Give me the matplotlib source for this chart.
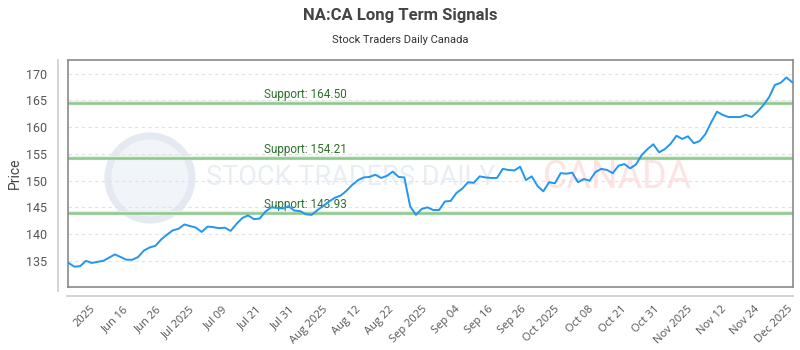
import numpy as np
import matplotlib.pyplot as plt
from matplotlib.lines import Line2D
from matplotlib.patches import Ellipse

# price series, one value per trading day
prices = [
    134.6, 133.9, 134.0, 135.0, 134.6, 134.8, 135.0, 135.6, 136.2, 135.7,
    135.2, 135.2, 135.7, 136.9, 137.5, 137.8, 139.0, 139.9, 140.7, 141.0,
    141.8, 141.5, 141.2, 140.4, 141.4, 141.3, 141.1, 141.2, 140.6, 141.9,
    143.0, 143.5, 142.8, 142.9, 144.2, 145.0, 144.9, 144.8, 145.2, 144.4,
    144.3,
    143.7, 143.6, 144.5, 145.3, 146.1, 146.8, 147.2, 148.1, 149.2, 150.1,
    150.6, 150.7, 151.1, 150.5, 150.9, 151.7, 150.7, 150.6, 145.2, 143.6,
    144.7, 145.0, 144.5, 144.5, 146.1, 146.2, 147.7, 148.5, 149.7, 149.6,
    150.8, 150.6, 150.5, 150.5, 152.2, 152.0, 151.9, 152.6, 150.1, 150.8,
    149.0, 148.0, 149.7, 149.5, 151.4, 151.3, 151.5, 149.7, 150.3, 150.0,
    151.6, 152.2, 152.0, 151.4, 152.8, 153.1, 152.3, 153.0, 154.8, 155.9,
    156.8, 155.3, 155.9, 156.9, 158.4, 157.8, 158.3, 157.0, 157.4, 158.7,
    160.9, 162.9, 162.3, 161.9, 161.9, 161.9, 162.3, 161.9, 162.9, 164.1,
    165.6, 167.9, 168.3, 169.3, 168.4,
]

support_levels = [164.50, 154.21, 143.93]

tick_labels = ["2025", "Jun 16", "Jun 26", "Jul 2025", "Jul 09", "Jul 21",
               "Jul 31", "Aug 2025", "Aug 12", "Aug 22", "Sep 2025", "Sep 04",
               "Sep 16", "Sep 26", "Oct 2025", "Oct 08", "Oct 21", "Oct 31",
               "Nov 2025", "Nov 12", "Nov 24", "Dec 2025"]

y_ticks = [135, 140, 145, 150, 155, 160, 165, 170]

fig = plt.figure(figsize=(8, 3.5), dpi=100)
ax = fig.add_axes([0.085, 0.18, 0.906, 0.649])

x = np.arange(len(prices))

# faint watermark (logo ring + wordmark)
ax.add_patch(Ellipse((0.113, 0.48), 0.116, 0.37, transform=ax.transAxes,
                     facecolor='#f1f4f9', edgecolor='#e4e9f2', lw=5, zorder=0))
ax.text(0.19, 0.48, "STOCK TRADERS DAILY", transform=ax.transAxes,
        fontsize=19.5, color='#e9edf4', va='center', ha='left',
        family='Roboto', zorder=0)
ax.text(0.655, 0.48, "CANADA", transform=ax.transAxes,
        fontsize=27, color='#fde3e3', va='center', ha='left',
        family='Roboto', zorder=0)

for lvl in support_levels:
    ax.axhline(lvl, color='#e3f1e3', lw=3.2, zorder=1)
    ax.axhline(lvl, color='#8dc98d', lw=1.8, zorder=2)
    ax.text(33.8, lvl + 0.45, f"Support: {lvl:.2f}", color='#2f6f2f',
            fontsize=8.5, va='bottom', ha='left', family='Roboto', zorder=3)

ax.plot(x, prices, color='#2196f3', lw=1.4, zorder=4)

ax.set_xlim(-0.1, len(prices) - 0.9)
ax.set_ylim(130.1, 172.6)
ax.set_yticks(y_ticks)
ax.grid(axis='y', color='#e2e2e2', ls=(0, (3, 3)), lw=0.8)
ax.set_axisbelow(True)

ax.set_xticks(np.linspace(3.6, 124.1, len(tick_labels)))
ax.set_xticklabels(tick_labels, rotation=45, ha='right', rotation_mode='anchor',
                   family='Open Sans', fontsize=8, color='#555555')
for lab in ax.get_yticklabels():
    lab.set_family('Roboto')
ax.tick_params(axis='y', length=0, pad=15, labelsize=9, labelcolor='#555555')
ax.tick_params(axis='x', length=0, pad=12)

for s in ax.spines.values():
    s.set_color('#8a8a8a')
    s.set_linewidth(1.2)

ax.set_ylabel("Price", fontsize=10, color='#444444', family='Roboto', labelpad=3)

# offset axis lines outside the plot box
fig.add_artist(Line2D([0.0725, 0.0725], [0.17, 0.829], color='#cccccc', lw=1.2))
fig.add_artist(Line2D([0.084, 0.991], [0.154, 0.154], color='#cccccc', lw=1.2))

fig.text(0.5, 0.955, "NA:CA Long Term Signals", ha='center', va='center',
         fontsize=12, fontweight='bold', color='#444444', family='Roboto')
fig.text(0.5, 0.885, "Stock Traders Daily Canada", ha='center', va='center',
         fontsize=8, color='#333333', family='Roboto')

fig.savefig("out.png", dpi=100, facecolor='white')
